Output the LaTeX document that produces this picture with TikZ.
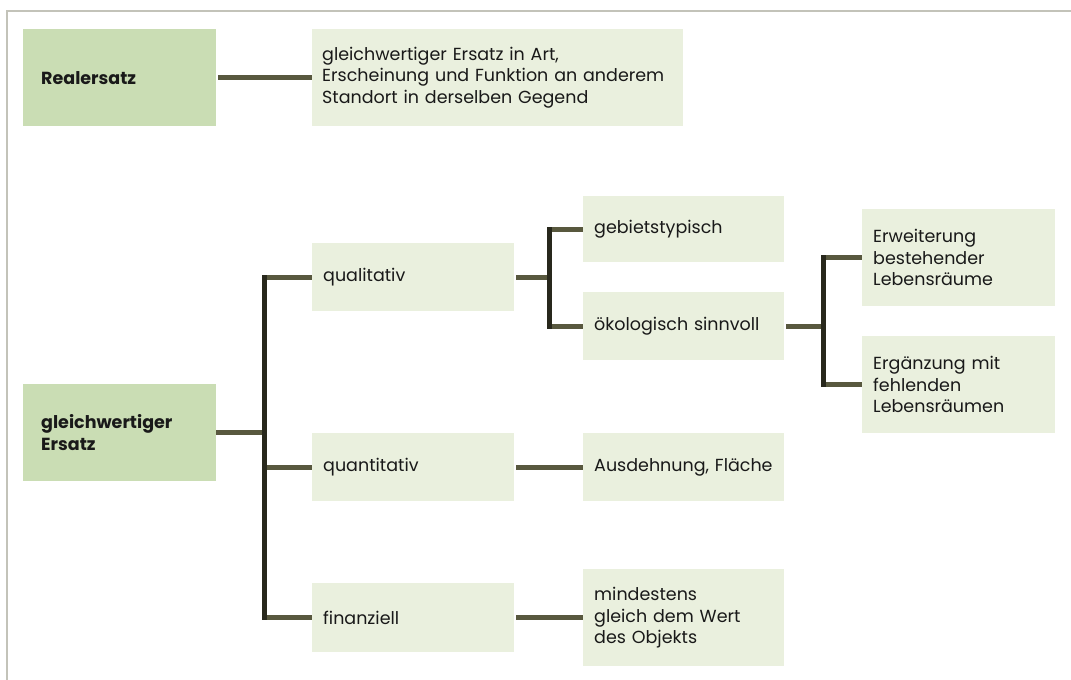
\documentclass[tikz,border=0pt]{standalone}
\usepackage{fontspec}
\setmainfont{Poppins}
\definecolor{darkbox}{RGB}{202,221,180}
\definecolor{lightbox}{RGB}{234,240,222}
\definecolor{hcol}{RGB}{88,88,62}
\definecolor{vcol}{RGB}{40,40,28}
\definecolor{frame}{RGB}{195,195,185}
\definecolor{ink}{RGB}{25,25,25}
\begin{document}
\begin{tikzpicture}[x=1pt,y=-1pt,
  box/.style={rectangle, anchor=north west, inner ysep=0pt, inner xsep=11pt,
    fill=lightbox, text=ink, align=left,
    font=\fontsize{17.5}{21.5}\selectfont},
  mainbox/.style={box, fill=darkbox, inner xsep=18pt,
    font=\fontsize{17.5}{21.5}\selectfont\bfseries},
  hline/.style={draw=hcol, line width=5pt},
  vline/.style={draw=vcol, line width=5pt, line cap=rect}]
\useasboundingbox (0,0) rectangle (1071,680);
% frame
\draw[frame, line width=1.5pt] (7,680) -- (7,11) -- (1071,11);
% nodes
\node[mainbox, text width=157pt, minimum height=97pt] (real) at (23,29) {Realersatz};
\node[box, inner xsep=10pt, text width=351pt, minimum height=97pt] (desc) at (312,29)
  {gleichwertiger Ersatz in Art,\\Erscheinung und Funktion an anderem\\Standort in derselben Gegend};
\node[mainbox, text width=157pt, minimum height=97pt] (gleich) at (23,384) {gleichwertiger\\Ersatz};
\node[box, text width=180pt, minimum height=68pt] (qual) at (312,243) {qualitativ};
\node[box, text width=180pt, minimum height=68pt] (quant) at (312,433) {quantitativ};
\node[box, text width=180pt, minimum height=69pt] (fin) at (312,583) {finanziell};
\node[box, text width=179pt, minimum height=66pt] (geb) at (583,196) {gebietstypisch};
\node[box, text width=179pt, minimum height=68pt] (oeko) at (583,292) {ökologisch sinnvoll};
\node[box, text width=179pt, minimum height=68pt] (aus) at (583,433) {Ausdehnung, Fläche};
\node[box, text width=179pt, minimum height=97pt] (mind) at (583,569) {mindestens\\gleich dem Wert\\des Objekts};
\node[box, text width=171pt, minimum height=97pt] (erw) at (862,209) {Erweiterung\\bestehender\\Lebensräume};
\node[box, text width=171pt, minimum height=97pt] (erg) at (862,336) {Ergänzung mit\\fehlenden\\Lebensräumen};
% junctions
\coordinate (t1) at (264,432.5);
\coordinate (t2) at (549,277);
\coordinate (t3) at (823,326);
% connectors
\draw[hline] ([xshift=2pt]real.east) -- (desc.west);
\draw[hline] (gleich.east) -- (t1 |- gleich.east);
\draw[hline] (t1 |- qual.west) -- (qual.west);
\draw[hline] (t1 |- quant.west) -- (quant.west);
\draw[hline] (t1 |- fin.west) -- (fin.west);
\draw[vline] (t1 |- qual.west) -- (t1 |- fin.west);
\draw[hline] ([xshift=2pt]qual.east) -- (t2 |- qual.east);
\draw[hline] (t2 |- geb.west) -- (geb.west);
\draw[hline] (t2 |- oeko.west) -- (oeko.west);
\draw[vline] (t2 |- geb.west) -- (t2 |- oeko.west);
\draw[hline] ([xshift=2pt]oeko.east) -- (t3 |- oeko.east);
\draw[hline] (t3 |- erw.west) -- (erw.west);
\draw[hline] (t3 |- erg.west) -- (erg.west);
\draw[vline] (t3 |- erw.west) -- (t3 |- erg.west);
\draw[hline] ([xshift=2pt]quant.east) -- (aus.west);
\draw[hline] ([xshift=2pt]fin.east) -- (fin.east -| mind.west);
\end{tikzpicture}
\end{document}
